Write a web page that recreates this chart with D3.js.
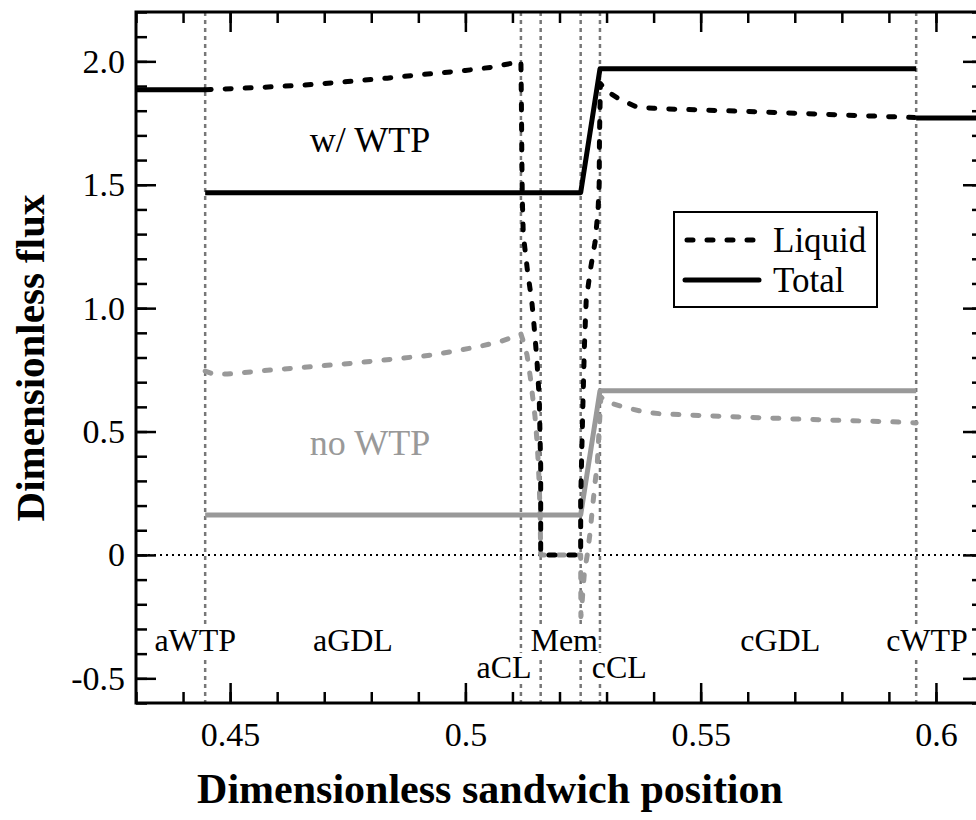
<!DOCTYPE html>
<html>
<head>
<meta charset="utf-8">
<script src="https://d3js.org/d3.v7.min.js"></script>
</head>
<body style="margin: 0; background: #fff; overflow: hidden">
<svg id="chart"></svg>
<script>
// axis ticks
const xTicks = [0.45, 0.5, 0.55, 0.6];
const xTickLabels = ["0.45", "0.5", "0.55", "0.6"];
const yTicks = [-0.5, 0, 0.5, 1.0, 1.5, 2.0];
const yTickLabels = ["-0.5", "0", "0.5", "1.0", "1.5", "2.0"];

// layer boundaries and labels
const boundaries = [0.4447, 0.5118, 0.5160, 0.5245, 0.5286, 0.5958];
const regionNames = ["aWTP", "aGDL", "aCL", "Mem", "cCL", "cGDL", "cWTP"];
const regionX = [0.4426, 0.4761, 0.5082, 0.5210, 0.5327, 0.5669, 0.5981];
const regionRow = [0, 0, 1, 0, 1, 0, 0];

// w/ WTP, liquid flux
const wtpLiquidX = [0.4447, 0.455, 0.465, 0.475, 0.4834, 0.49, 0.50, 0.5059, 0.5118,
    0.5119, 0.5120, 0.5121, 0.5123, 0.5132, 0.5141, 0.5145, 0.5152, 0.5157, 0.5160, 0.5160,
    0.5245, 0.5245, 0.52475, 0.5250, 0.5253, 0.52567, 0.5266, 0.52758, 0.5282, 0.52843, 0.5285, 0.5287,
    0.5300, 0.5325, 0.5364, 0.540, 0.545, 0.55, 0.56, 0.57, 0.58, 0.59, 0.5958];
const wtpLiquidY = [1.885, 1.893, 1.903, 1.918, 1.932, 1.945, 1.963, 1.977, 2.0,
    1.84, 1.60, 1.44, 1.30, 1.15, 1.03, 0.95, 0.79, 0.63, 0.36, 0,
    0, 0.22, 0.43, 0.63, 0.85, 1.03, 1.16, 1.27, 1.40, 1.50, 1.70, 1.91,
    1.88, 1.85, 1.815, 1.810, 1.806, 1.803, 1.797, 1.790, 1.783, 1.776, 1.772];
// w/ WTP, total flux
const wtpTotalX = [0.4447, 0.5245, 0.5286, 0.5958];
const wtpTotalY = [1.468, 1.468, 1.970, 1.970];
// w/ WTP, flux inside the water transport plates
const wtpPlateLeftX = [0.43, 0.4447];
const wtpPlateLeftY = [1.885, 1.885];
const wtpPlateRightX = [0.5958, 0.61];
const wtpPlateRightY = [1.77, 1.77];

// no WTP, liquid flux
const noWtpLiquidX = [0.4447, 0.4465, 0.4494, 0.4585, 0.4761, 0.4931, 0.5025, 0.5074, 0.5118,
    0.5124, 0.5131, 0.5138, 0.5143, 0.5148, 0.5152, 0.5155, 0.5157, 0.5159, 0.5160,
    0.5245, 0.52455, 0.5247, 0.5250, 0.5253, 0.5259, 0.5265, 0.5269, 0.5276, 0.5280, 0.5284, 0.5288,
    0.5300, 0.5335, 0.5378, 0.5414, 0.55, 0.56, 0.57, 0.58, 0.59, 0.5958];
const noWtpLiquidY = [0.745, 0.732, 0.733, 0.749, 0.777, 0.81, 0.843, 0.864, 0.895,
    0.86, 0.81, 0.72, 0.64, 0.56, 0.466, 0.37, 0.28, 0.15, 0,
    0, -0.25, -0.22, -0.14, -0.07, 0, 0.09, 0.17, 0.30, 0.36, 0.50, 0.64,
    0.62, 0.60, 0.58, 0.572, 0.565, 0.558, 0.551, 0.545, 0.540, 0.535];
// no WTP, total flux
const noWtpTotalX = [0.4447, 0.5245, 0.5286, 0.5958];
const noWtpTotalY = [0.162, 0.162, 0.665, 0.665];

const serif = "Times New Roman, Liberation Serif, Times, serif";
const grey = "#999";

var margin = { top: 12, right: -7, bottom: 117, left: 136 },
    width = 976 - margin.left - margin.right,
    height = 820 - margin.top - margin.bottom;

var root = d3.select("#chart")
    .attr("width", 976)
    .attr("height", 820)
    .attr("font-family", serif);

var svg = root.append("g")
    .attr("transform", "translate(" + margin.left + "," + margin.top + ")");

const x = d3.scaleLinear().domain([0.43, 0.61]).range([0, width]);
const y = d3.scaleLinear().domain([-0.6, 2.2]).range([height, 0]);

// zero line
svg.append("line")
    .attr("x1", 0).attr("x2", width)
    .attr("y1", y(0)).attr("y2", y(0))
    .style("stroke", "black").style("stroke-width", 2)
    .style("stroke-dasharray", "2,4");

// layer boundaries
svg.append("g")
    .selectAll("line")
    .data(boundaries)
    .join("line")
    .attr("x1", d => x(d)).attr("x2", d => x(d))
    .attr("y1", 0).attr("y2", height)
    .style("stroke", "#777").style("stroke-width", 2.5)
    .style("stroke-dasharray", "4,4");

// layer names, with a white box behind them
const labels = svg.append("g");
regionNames.forEach((name, i) => {
    const g = labels.append("g");
    const t = g.append("text")
        .attr("x", x(regionX[i]))
        .attr("y", regionRow[i] == 0 ? 639 : 666)
        .attr("text-anchor", "middle")
        .attr("font-family", serif)
        .style("font-size", "32px")
        .text(name);
    const b = t.node().getBBox();
    g.insert("rect", "text")
        .attr("x", b.x).attr("y", b.y + 4)
        .attr("width", b.width).attr("height", b.height - 6)
        .style("fill", "white");
});

const line = d3.line().x(d => x(d[0])).y(d => y(d[1]));
const zip = (a, b) => a.map((v, i) => [v, b[i]]);

function drawSeries(xs, ys, color, dashed) {
    svg.append("path")
        .datum(zip(xs, ys))
        .attr("d", line)
        .attr("fill", "none")
        .style("stroke", color)
        .style("stroke-width", 5)
        .style("stroke-linecap", dashed ? "round" : "butt")
        .style("stroke-linejoin", "round")
        .style("stroke-dasharray", dashed ? "6,14" : null);
}

drawSeries(noWtpTotalX, noWtpTotalY, grey, false);
drawSeries(noWtpLiquidX, noWtpLiquidY, grey, true);
drawSeries(wtpTotalX, wtpTotalY, "black", false);
drawSeries(wtpPlateLeftX, wtpPlateLeftY, "black", false);
drawSeries(wtpPlateRightX, wtpPlateRightY, "black", false);
drawSeries(wtpLiquidX, wtpLiquidY, "black", true);

// annotations
svg.append("text").attr("x", 234).attr("y", 140).attr("text-anchor", "middle")
    .style("font-size", "36px").text("w/ WTP");
svg.append("text").attr("x", 234).attr("y", 443).attr("text-anchor", "middle")
    .style("font-size", "36px").style("fill", grey).text("no WTP");

// legend
const legend = svg.append("g").attr("transform", "translate(538,200)");
legend.append("rect").attr("width", 203).attr("height", 95)
    .style("fill", "white").style("stroke", "black").style("stroke-width", 2);
legend.append("line").attr("x1", 13).attr("x2", 83).attr("y1", 28).attr("y2", 28)
    .style("stroke", "black").style("stroke-width", 5).style("stroke-linecap", "round")
    .style("stroke-dasharray", "6,14");
legend.append("line").attr("x1", 11).attr("x2", 85).attr("y1", 68).attr("y2", 68)
    .style("stroke", "black").style("stroke-width", 5).style("stroke-linecap", "round");
legend.append("text").attr("x", 99).attr("y", 40).style("font-size", "35px").text("Liquid");
legend.append("text").attr("x", 99).attr("y", 80).style("font-size", "35px").text("Total");

// axes: ticks on every side, pointing in
const xMinor = d3.range(0.43, 0.6101, 0.01);
const yMinor = d3.range(-0.6, 2.2001, 0.1);

function drawAxis(gen, pos, ticks, size, labels, pad) {
    gen.tickValues(ticks).tickSize(-size).tickPadding(pad)
        .tickFormat((d, i) => labels ? labels[i] : "");
    svg.append("g").attr("transform", pos)
        .call(gen)
        .call(g => g.select(".domain").remove())
        .call(g => g.selectAll("line").style("stroke-width", 2.5))
        .call(g => g.selectAll("text").attr("font-family", null)
            .style("font-size", "34px").style("fill", "black"))
        .attr("font-family", serif);
}

// minor ticks
drawAxis(d3.axisBottom(x), "translate(0," + height + ")", xMinor, 11, null, 0);
drawAxis(d3.axisTop(x), "translate(0,0)", xMinor, 11, null, 0);
drawAxis(d3.axisLeft(y), "translate(0,0)", yMinor, 11, null, 0);
drawAxis(d3.axisRight(y), "translate(" + width + ",0)", yMinor, 11, null, 0);
// major ticks
drawAxis(d3.axisBottom(x), "translate(0," + height + ")", xTicks, 20, xTickLabels, 19);
drawAxis(d3.axisTop(x), "translate(0,0)", xTicks, 20, null, 0);
drawAxis(d3.axisLeft(y), "translate(0,0)", yTicks, 20, yTickLabels, 11);
drawAxis(d3.axisRight(y), "translate(" + width + ",0)", yTicks, 20, null, 0);

// frame
svg.append("rect").attr("width", width).attr("height", height)
    .style("fill", "none").style("stroke", "black").style("stroke-width", 3);

// axis titles
svg.append("text")
    .attr("x", 490 - margin.left).attr("y", 803 - margin.top)
    .attr("text-anchor", "middle")
    .style("font-size", "42px").style("font-weight", "bold")
    .text("Dimensionless sandwich position");
svg.append("text")
    .attr("transform", "translate(" + (44 - margin.left) + "," + (358 - margin.top) + ") rotate(-90)")
    .attr("text-anchor", "middle")
    .style("font-size", "41px").style("font-weight", "bold")
    .text("Dimensionless flux");
</script>
</body>
</html>
